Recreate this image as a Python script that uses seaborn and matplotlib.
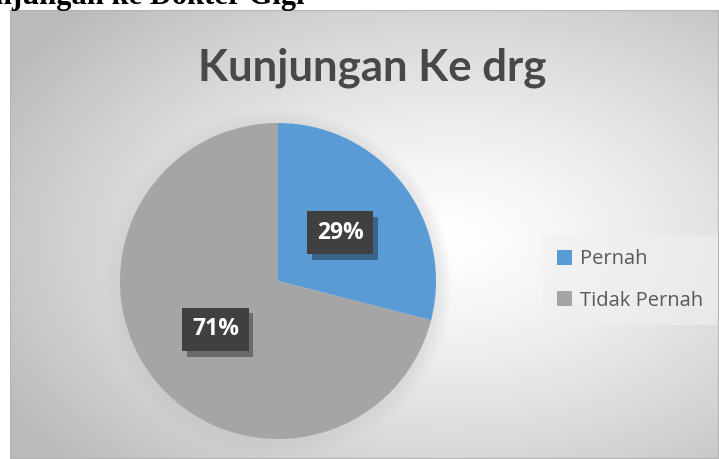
import matplotlib.pyplot as plt
import matplotlib.patheffects as pe
import seaborn as sns
import numpy as np

# data
categories = ["Pernah", "Tidak Pernah"]
percentages = [29, 71]
colors = ["#5B9BD5", "#A5A5A5"]
chart_title = "Kunjungan Ke drg"
doc_heading = "Kunjungan ke Dokter Gigi"

sns.set_theme(style="white")
plt.rcParams['font.family'] = ['Open Sans', 'DejaVu Sans']

W, H = 719, 459
fig = plt.figure(figsize=(W / 100, H / 100), dpi=100)
fig.patch.set_facecolor("white")

# chart area background with radial gradient
bg = fig.add_axes([10 / W, 0, 1 - 10 / W, 1 - 10 / H])
bg.set_axis_off()
yy, xx = np.mgrid[0:449, 0:709]
cx, cy = 440, 230
d = np.sqrt(((xx - cx) / 520.0) ** 2 + ((yy - cy) / 330.0) ** 2)
shade = 1.0 - 0.27 * np.clip(d, 0, 1) ** 1.3
bg.imshow(np.dstack([shade] * 3), aspect="auto", extent=[0, 1, 0, 1], origin="upper")
bg.add_patch(plt.Rectangle((0, 0), 1, 1, transform=bg.transAxes, fill=False,
                           edgecolor="#b4b4b4", lw=1.5))

# document heading cut off at the top
fig.text(305 / W, 1 - 4 / H, doc_heading, ha="right", va="baseline",
         fontsize=22, fontweight="bold", family=["Liberation Serif", "DejaVu Serif"],
         color="black")

# title
fig.text(372 / W, 1 - 80 / H, chart_title, ha="center", va="baseline",
         fontsize=31.5, fontweight="bold",
         family=["Lato", "Open Sans", "DejaVu Sans"], color="#484848")

# pie
R = 158
pcx, pcy = 278, 281
ax = fig.add_axes([(pcx - R) / W, (H - pcy - R) / H, 2 * R / W, 2 * R / H])
ax.set_axis_off()

# soft glow under pie
for k in range(8):
    ax.add_patch(plt.Circle((0.0, -0.02), 1.0 + 0.012 * (k + 1), color="#c8c8c8",
                            alpha=0.05, zorder=0, lw=0, clip_on=False))

wedges, texts, autotexts = ax.pie(percentages, colors=colors, startangle=90,
                                  counterclock=False, radius=1,
                                  autopct="%d%%", pctdistance=0.5,
                                  wedgeprops=dict(linewidth=0),
                                  textprops=dict(color="white", fontsize=16.5,
                                                 fontweight="bold"))
ax.set_xlim(-1, 1)
ax.set_ylim(-1, 1)
ax.set_aspect("auto")

for t in autotexts:
    t.set_bbox(dict(boxstyle="square,pad=0.42", facecolor="#404040",
                    edgecolor="none"))
    t.get_bbox_patch().set_path_effects([pe.SimplePatchShadow(offset=(3, -4),
                                                              shadow_rgbFace="#000000",
                                                              alpha=0.35),
                                         pe.Normal()])

# legend
leg = fig.legend(wedges, categories, loc="center left",
                 bbox_to_anchor=(533 / W, 1 - 280 / H), frameon=True,
                 fontsize=14.5, labelcolor="#595959", handlelength=0.75,
                 handleheight=0.75, handletextpad=0.4, labelspacing=1.05,
                 borderpad=0.7, fancybox=False)
leg.get_frame().set_facecolor("#f0f0f0")
leg.get_frame().set_alpha(0.6)
leg.get_frame().set_edgecolor("none")

fig.savefig("out.png", dpi=100)
